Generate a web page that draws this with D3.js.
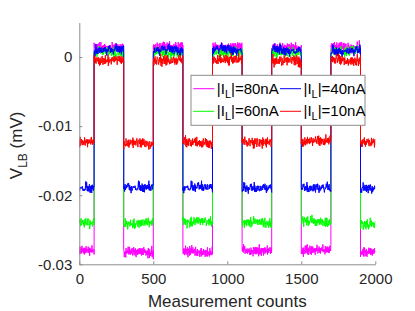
<!DOCTYPE html>
<html>
<head>
<meta charset="utf-8">
<script src="https://cdn.jsdelivr.net/npm/d3@7"></script>
<style>
  body { margin: 0; background: #fff; }
  svg { display: block; font-family: "Liberation Sans", Arial, sans-serif; }
  .axis .domain { stroke: #8c8c8c; }
  .axis line { stroke: #8c8c8c; }
  .axis text { fill: #262626; font-size: 15px; }
</style>
</head>
<body>
<svg id="chart" width="415" height="311"></svg>
<script>
// segment edges along the measurement counts (signal toggles low/high)
const segmentEdges = [0, 100, 300, 500, 700, 900, 1100, 1300, 1500, 1700, 1900, 2000];

// series, in draw order (legend is column-wise)
const seriesNames = ['80nA', '60nA', '40nA', '10nA'];
const seriesColors = ['#ff00ff', '#00ff00', '#0000ff', '#ff0000'];

// level of each segment (mV), low/high alternating
const levels80 = [-0.0281, 0.0014, -0.0283, 0.0015, -0.0282, 0.0014, -0.0280, 0.0013, -0.0279, 0.0014, -0.0282];
const levels60 = [-0.0240, 0.0007, -0.0241, 0.0006, -0.0239, 0.0007, -0.0240, 0.0006, -0.0238, 0.0008, -0.0241];
const levels40 = [-0.0189, 0.0010, -0.0188, 0.0010, -0.0188, 0.0011, -0.0190, 0.0010, -0.0190, 0.0009, -0.0191];
const levels10 = [-0.0124, -0.0004, -0.0125, -0.0005, -0.0124, -0.0004, -0.0123, -0.0006, -0.0121, -0.0005, -0.0123];
const seriesLevels = [levels80, levels60, levels40, levels10];

// measurement noise (units of 1e-4 mV), hand typed
const noise = [2, -3, 4, -1, 0, -5, 3, 1, -2, 5, -4, 0, 2, -1, -3, 4, 1, -6, 3, 0,
  -2, 2, -4, 5, -1, 1, -3, 3, 0, -2, 6, -3, 1, -1, 4, -5, 2, 0, -2, 3,
  -1, -4, 1, 5, -3, 0, 2, -2, -1, 3, -5, 4, 0, -1, 2, -3, 1];
const noiseStride = [1, 5, 7, 11];
const noiseScale = 1.2e-4;
const sampleStep = 2;

const xTicks = [0, 500, 1000, 1500, 2000];
const yTicks = [-0.03, -0.02, -0.01, 0];

const svg = d3.select('#chart');
const margin = { left: 79.3, right: 415 - 375.3, top: 22.5, bottom: 311 - 264.3 };

const x = d3.scaleLinear().domain([0, 2000]).range([margin.left, 415 - margin.right]);
const y = d3.scaleLinear().domain([-0.03, 0.005]).range([311 - margin.bottom, margin.top]);

// look up table noise for sample n of series k
function jitter(n, k) {
  const L = noise.length;
  const i = (n * noiseStride[k] + Math.floor(n / L) * 17 + k * 13) % L;
  const i2 = (n * 3 + Math.floor(n / L) * 29 + k * 7) % L;
  return (noise[i] + 0.5 * noise[i2]) * noiseScale;
}

function buildSeries(levels, k) {
  const pts = [];
  let n = 0;
  for (let s = 0; s < levels.length; s++) {
    const a = segmentEdges[s], b = segmentEdges[s + 1];
    for (let c = a; c <= b; c += sampleStep) {
      pts.push([c, levels[s] + jitter(n, k)]);
      n++;
    }
  }
  return pts;
}

const line = d3.line().x(d => x(d[0])).y(d => y(d[1]));

const plot = svg.append('g').attr('class', 'lines');
plot.append('clipPath').attr('id', 'clip')
  .append('rect')
  .attr('x', x(0)).attr('y', y(0.005))
  .attr('width', x(2000) - x(0)).attr('height', y(-0.03) - y(0.005));

seriesLevels.forEach((levels, k) => {
  plot.append('path')
    .datum(buildSeries(levels, k))
    .attr('d', line)
    .attr('clip-path', 'url(#clip)')
    .attr('fill', 'none')
    .attr('stroke', seriesColors[k])
    .attr('stroke-width', 1);
});

// axes, ticks pointing inward, no box
svg.append('g')
  .attr('class', 'axis')
  .attr('transform', `translate(0,${y(-0.03)})`)
  .call(d3.axisBottom(x).tickValues(xTicks).tickSizeInner(-3).tickSizeOuter(0).tickPadding(9)
    .tickFormat(d => String(d)));

svg.append('g')
  .attr('class', 'axis')
  .attr('transform', `translate(${x(0)},0)`)
  .call(d3.axisLeft(y).tickValues(yTicks).tickSizeInner(-3).tickSizeOuter(0).tickPadding(7)
    .tickFormat(d => String(+d.toFixed(2))));

// axis labels
svg.append('text')
  .attr('x', (x(0) + x(2000)) / 2)
  .attr('y', 307)
  .attr('text-anchor', 'middle')
  .attr('fill', '#262626')
  .style('font-size', '17px')
  .text('Measurement counts');

const yl = svg.append('text')
  .attr('transform', `translate(22,${(y(-0.03) + y(0.005)) / 2 + 2}) rotate(-90)`)
  .attr('text-anchor', 'middle')
  .attr('fill', '#262626')
  .style('font-size', '17px');
yl.append('tspan').text('V');
yl.append('tspan').attr('dy', 5).style('font-size', '12px').text('LB');
yl.append('tspan').attr('dy', -5).text(' (mV)');

// legend
const legend = svg.append('g').attr('class', 'legend');
legend.append('rect')
  .attr('x', 191).attr('y', 75.3)
  .attr('width', 174).attr('height', 50)
  .attr('fill', '#fff')
  .attr('stroke', '#8c8c8c')
  .attr('stroke-width', 1);

const legendCols = [193.3, 280];
const legendRows = [88.7, 111.3];
seriesNames.forEach((name, k) => {
  const col = Math.floor(k / 2), row = k % 2;
  const lx = legendCols[col], ly = legendRows[row];
  legend.append('line')
    .attr('x1', lx).attr('x2', lx + 21)
    .attr('y1', ly).attr('y2', ly)
    .attr('stroke', seriesColors[k]).attr('stroke-width', 1);
  const t = legend.append('text')
    .attr('x', lx + 23.5).attr('y', ly + 5)
    .attr('fill', '#000')
    .style('font-size', '15px');
  t.append('tspan').text('|I');
  t.append('tspan').attr('dy', 4).style('font-size', '11px').text('L');
  t.append('tspan').attr('dy', -4).text('|=' + name);
});
</script>
</body>
</html>
